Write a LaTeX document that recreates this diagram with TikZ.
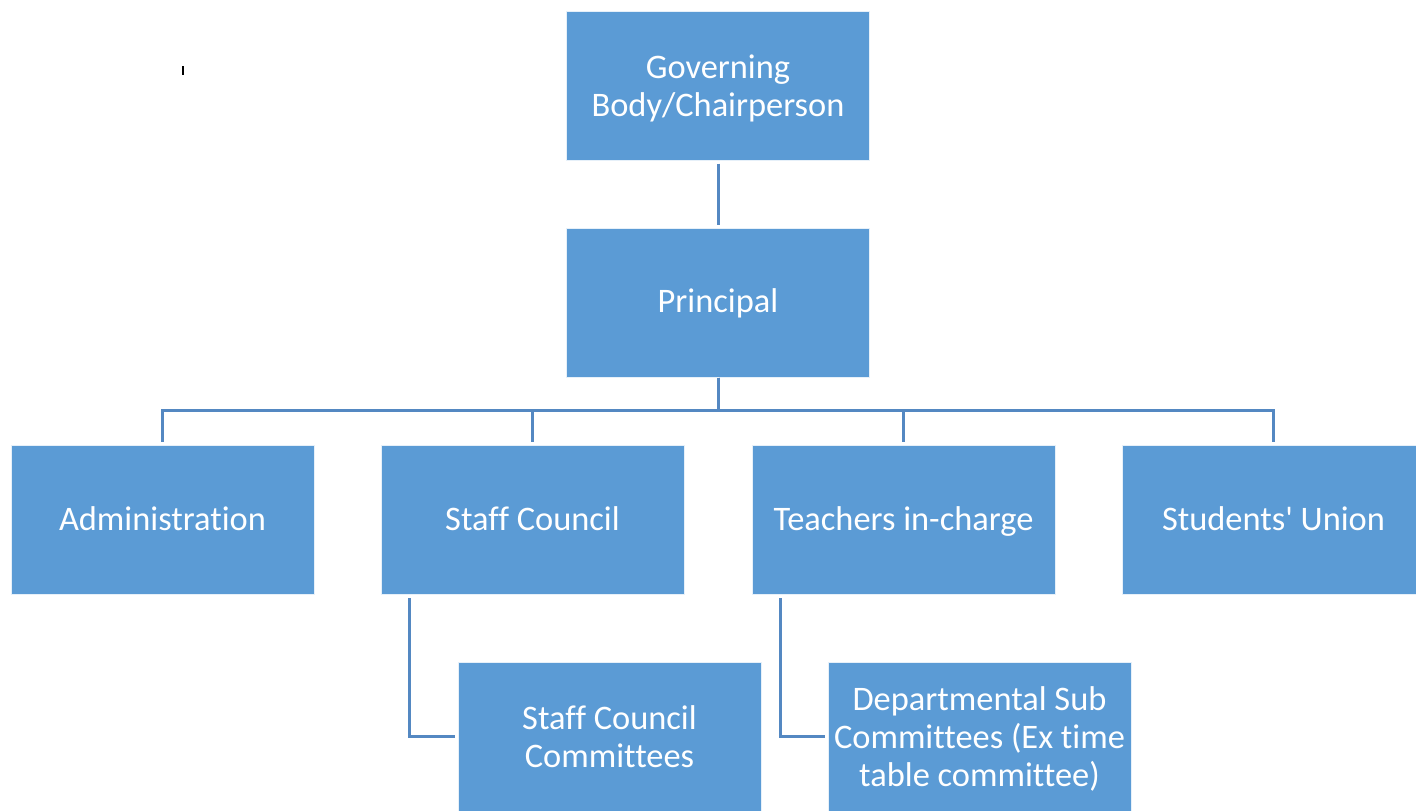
\documentclass[tikz,border=0pt]{standalone}
\usepackage{fontspec}
\setmainfont{Carlito}[Ligatures=CommonOff]
\usetikzlibrary{positioning}
\definecolor{boxblue}{RGB}{91,155,213}
\definecolor{linkblue}{RGB}{84,136,194}
\tikzset{
  orgbox/.style={
    fill=boxblue, draw=white!85!boxblue, line width=0.5pt,
    text=white, align=center, inner sep=0pt, text depth=0pt,
    minimum width=151.5pt, minimum height=74.5pt,
    font=\fontsize{17.2}{19}\selectfont
  },
  onebox/.style={orgbox, text height=12pt, text depth=1.8pt},
  orglink/.style={
    draw=linkblue, line width=1.5pt
  },
  every picture/.style={x=0.5pt,y=-0.5pt}
}
\begin{document}
\begin{tikzpicture}
\clip (0,0) rectangle (1416,810);
\fill[white] (0,0) rectangle (1416,810);
\draw[line width=0.6pt] (183,66) -- (183,75);
% top of the chart
\node[orgbox] (board) at (718,85.5) {Governing\\Body/Chairperson};
\node[onebox] (principal) at (718,302.5) {Principal};
% second row
\node[onebox] (admin) at (162.5,520) {Administration};
\node[onebox] (staff) at (532.5,520) {Staff Council};
\node[onebox] (teachers) at (903.5,520) {Teachers in-charge};
\node[onebox] (students) at (1273.5,520) {Students\textquotesingle{} Union};
% third row
\node[orgbox] (staffcom) at (609.5,736.5) {Staff Council\\Committees};
\node[orgbox] (deptcom) at (979.5,736.5) {Departmental Sub\\Committees (Ex time\\table committee)};
\draw[orglink,shorten <=1.5pt,shorten >=1.5pt] (board) -- (principal);
\foreach \kid in {admin,staff,teachers,students}
  \draw[orglink,shorten >=1.5pt] (principal.south) -- ++(0,33) -| (\kid.north);
\draw[orglink,shorten <=1.5pt,shorten >=1.5pt] ([xshift=14.5pt]staff.south west) |- (staffcom.west);
\draw[orglink,shorten <=1.5pt,shorten >=1.5pt] ([xshift=14.5pt]teachers.south west) |- (deptcom.west);
\end{tikzpicture}
\end{document}
